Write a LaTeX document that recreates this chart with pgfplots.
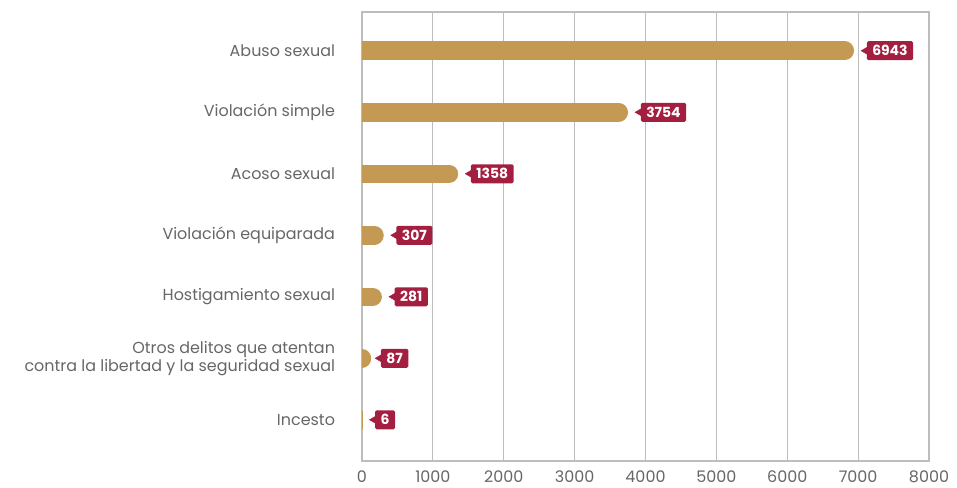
\documentclass[border=0pt]{standalone}
\usepackage{pgfplots}
\pgfplotsset{compat=1.18}
\usepackage{fontspec}
\setmainfont{Poppins}
\definecolor{barra}{HTML}{C49954}
\definecolor{etiq}{HTML}{A41E3F}
\definecolor{texto}{HTML}{666666}
\definecolor{rejilla}{HTML}{BDBDBD}

% barra redondeada: la punta termina en el valor
\pgfplotsset{
  barra/.style={draw=barra, line width=18.5bp, line cap=round, shorten >=9.25bp, no marks},
}

\begin{document}
\begin{tikzpicture}
\begin{axis}[
  at={(0,0)}, anchor=south west,
  scale only axis, width=567bp, height=449bp,
  xmin=0, xmax=8000, ymin=0.33, ymax=7.63,
  xtick={0,1000,...,8000}, ytick={1,...,7},
  yticklabels={Incesto,{Otros delitos que atentan\\contra la libertad y la seguridad sexual},Hostigamiento sexual,Violación equiparada,Acoso sexual,Violación simple,Abuso sexual},
  major tick length=0pt,
  xmajorgrids, grid style={rejilla, line width=0.9bp},
  axis line style={rejilla, line width=1.2bp},
  tick label style={text=texto, font=\fontsize{16}{18}\selectfont},
  yticklabel style={align=right, xshift=-23.5bp},
  xticklabel style={yshift=-6.5bp},
  /pgf/number format/1000 sep={},
  /pgf/number format/assume math mode=true,
]
\addplot[barra] coordinates {(0,7) (6943,7)};
\addplot[barra] coordinates {(0,6) (3754,6)};
\addplot[barra] coordinates {(0,5) (1358,5)};
\addplot[barra] coordinates {(0,4) (307,4)};
\addplot[barra] coordinates {(0,3) (281,3)};
\addplot[barra] coordinates {(0,2) (87,2)};
\addplot[draw=barra, line width=18.5bp, no marks] coordinates {(0,1) (6,1)};

% flecha de la etiqueta
\addplot[only marks, mark=triangle*, mark size=4bp, color=etiq,
  mark options={xshift=11bp, rotate=90}]
  coordinates {(6943,7) (3754,6) (1358,5) (307,4) (281,3) (87,2) (6,1)};
% etiqueta
\addplot[draw=none, mark=none,
  nodes near coords, point meta=x,
  nodes near coords style={anchor=west, xshift=12.5bp, fill=etiq, text=white,
    font=\bfseries\fontsize{14}{15}\selectfont, rounded corners=1.5bp,
    inner xsep=5.5bp, inner ysep=0pt, minimum height=19bp},
] coordinates {(6943,7) (3754,6) (1358,5) (307,4) (281,3) (87,2) (6,1)};
\end{axis}
\pgfresetboundingbox
\path[use as bounding box] (-362bp,-27bp) rectangle (595bp,461bp);
\end{tikzpicture}
\end{document}
